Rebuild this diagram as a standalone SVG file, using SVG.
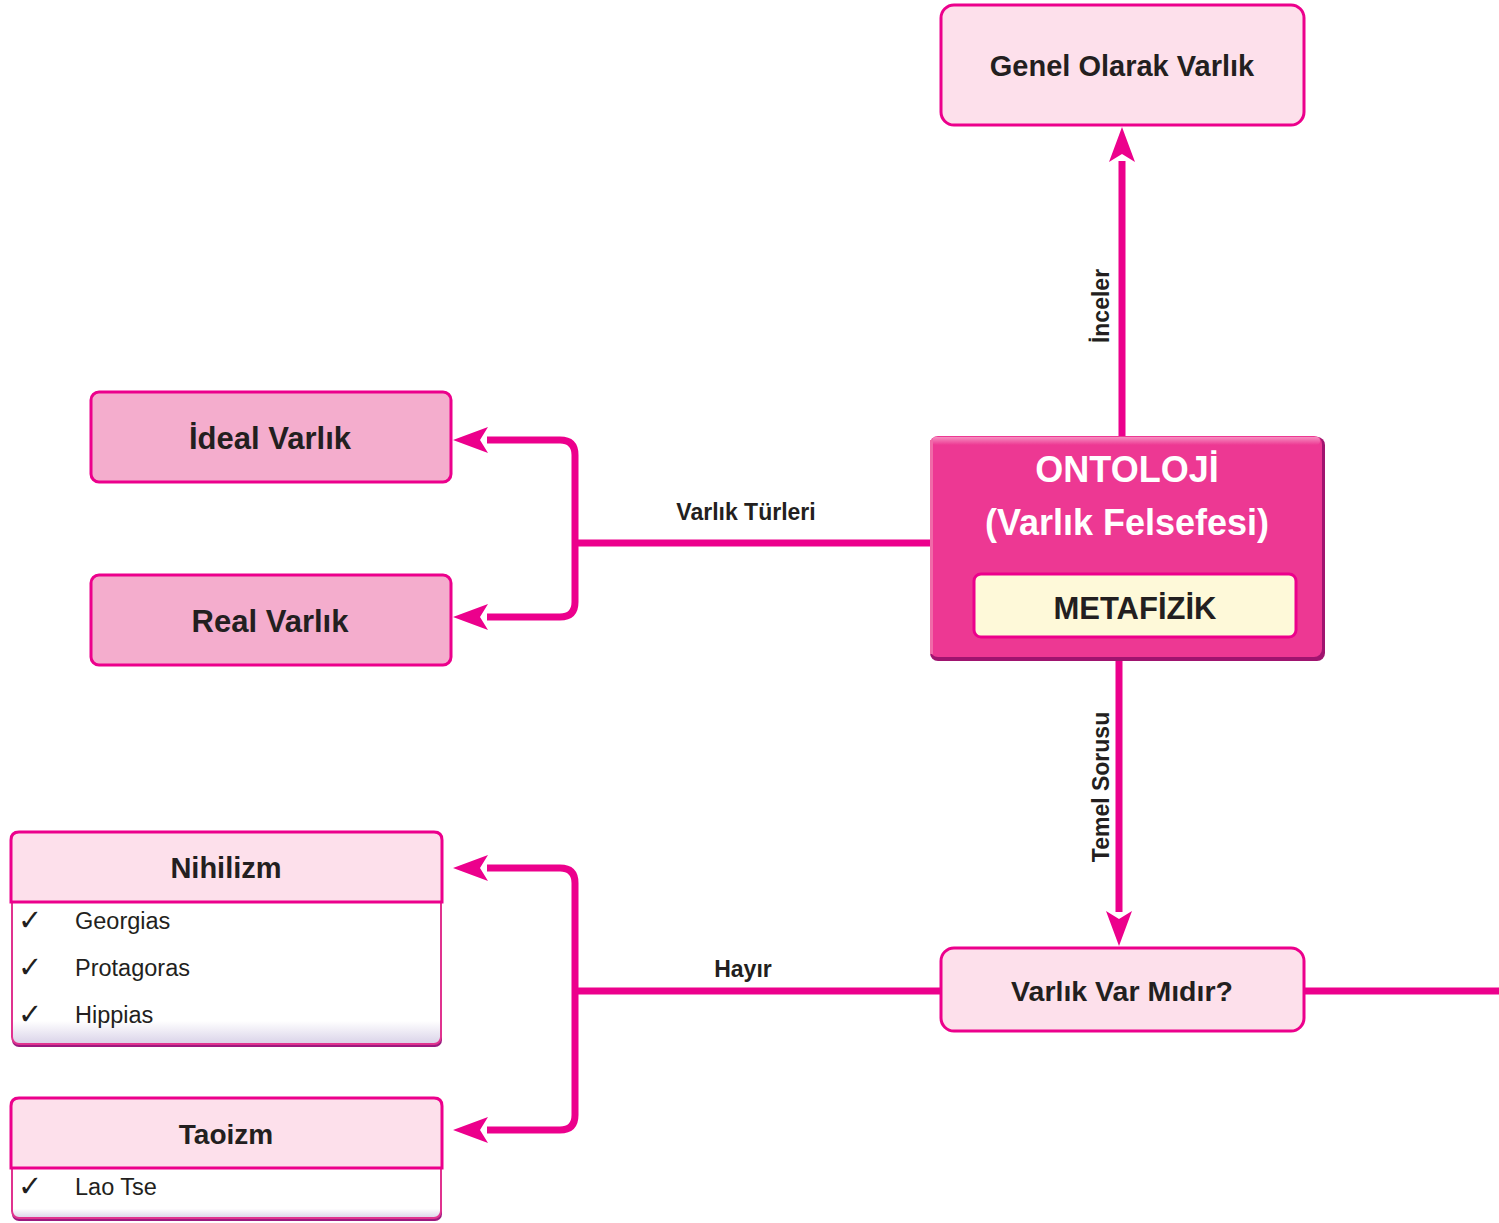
<svg xmlns="http://www.w3.org/2000/svg" width="1499" height="1223" viewBox="0 0 1499 1223">
<style>
  .bold { font-family: "Liberation Sans", Arial, sans-serif; font-weight: bold; fill: #231f20; }
  .reg { font-family: "Liberation Sans", Arial, sans-serif; fill: #231f20; }
  .chk { font-family: "DejaVu Sans", sans-serif; fill: #231f20; font-size: 29px; }
  .lbl { font-size: 23px; }
  .conn { fill: none; stroke: #ec008c; stroke-width: 7; }
  .light { fill: #fde0eb; stroke: #ec008c; stroke-width: 3; }
  .mid { fill: #f4adcd; stroke: #ec008c; stroke-width: 3; }
</style>
<defs>
  <marker id="ah" markerUnits="userSpaceOnUse" markerWidth="40" markerHeight="30" refX="0" refY="0" orient="auto" overflow="visible">
    <path d="M34,0 L-1,-13 L7,0 L-1,13 Z" fill="#ec008c"/>
  </marker>
  <linearGradient id="bodyGrad" x1="0" y1="0" x2="0" y2="1">
    <stop offset="0" stop-color="#ffffff"/>
    <stop offset="0.85" stop-color="#ffffff"/>
    <stop offset="1" stop-color="#d9d2e8"/>
  </linearGradient>
  <linearGradient id="ontoHi" x1="0" y1="0" x2="0" y2="1">
    <stop offset="0" stop-color="#f68fc0"/>
    <stop offset="1" stop-color="#ed3893"/>
  </linearGradient>
</defs>

<g id="connectors">
  <path class="conn" d="M1122,436 V161" marker-end="url(#ah)"/>
  <path class="conn" d="M1119,660 V912" marker-end="url(#ah)"/>
  <path class="conn" d="M930,543 H575"/>
  <path class="conn" d="M575,543 V455 Q575,440 560,440 H487" marker-end="url(#ah)"/>
  <path class="conn" d="M575,543 V602 Q575,617 560,617 H487" marker-end="url(#ah)"/>
  <path class="conn" d="M941,991 H575"/>
  <path class="conn" d="M575,991 V883 Q575,868 560,868 H487" marker-end="url(#ah)"/>
  <path class="conn" d="M575,991 V1115 Q575,1130 560,1130 H487" marker-end="url(#ah)"/>
  <path class="conn" d="M1304,991 H1499"/>
  <text class="bold lbl" x="746" y="520" text-anchor="middle">Varlık Türleri</text>
  <text class="bold lbl" x="743" y="977" text-anchor="middle">Hayır</text>
  <text class="bold lbl" transform="translate(1109,306) rotate(-90)" text-anchor="middle">İnceler</text>
  <text class="bold lbl" transform="translate(1109,787) rotate(-90)" text-anchor="middle">Temel Sorusu</text>
</g>

<g id="genel">
  <rect class="light" x="941" y="5" width="363" height="120" rx="13"/>
  <text class="bold" x="1122" y="76" font-size="29" text-anchor="middle">Genel Olarak Varlık</text>
</g>

<g id="ontoloji">
  <rect x="930" y="437" width="395" height="224" rx="8" fill="#a0146f"/>
  <rect x="930" y="436" width="392" height="221" rx="8" fill="#ed3893"/>
  <rect x="932" y="437" width="388" height="8" rx="4" fill="url(#ontoHi)"/>
  <rect x="930" y="440" width="3" height="214" fill="#f06aa8"/>
  <text class="bold" x="1127" y="482" font-size="36" text-anchor="middle" style="fill:#ffffff">ONTOLOJİ</text>
  <text class="bold" x="1127" y="535" font-size="36" text-anchor="middle" style="fill:#ffffff">(Varlık Felsefesi)</text>
  <rect x="974" y="574" width="322" height="63" rx="7" fill="#fef9d9" stroke="#ec008c" stroke-width="3"/>
  <text class="bold" x="1135" y="619" font-size="31" text-anchor="middle">METAFİZİK</text>
</g>

<g id="ideal">
  <rect class="mid" x="91" y="392" width="360" height="90" rx="8"/>
  <text class="bold" x="270" y="449" font-size="31" text-anchor="middle">İdeal Varlık</text>
</g>

<g id="real">
  <rect class="mid" x="91" y="575" width="360" height="90" rx="8"/>
  <text class="bold" x="270" y="632" font-size="31" text-anchor="middle">Real Varlık</text>
</g>

<g id="varlikvar">
  <rect class="light" x="941" y="948" width="363" height="83" rx="13"/>
  <text class="bold" x="1122" y="1001" font-size="28.5" text-anchor="middle">Varlık Var Mıdır?</text>
</g>

<g id="nihilizm">
  <rect x="12" y="890" width="430" height="157" rx="7" fill="#9a1a7f"/>
  <rect x="12" y="890" width="429" height="154" rx="7" fill="url(#bodyGrad)" stroke="#e0338f" stroke-width="2"/>
  <path d="M11,902 V840 Q11,832 19,832 H434 Q442,832 442,840 V902 Z" class="light"/>
  <text class="bold" x="226" y="878" font-size="29" text-anchor="middle">Nihilizm</text>
  <text class="chk" x="18" y="930">✓</text>
  <text class="reg" x="75" y="929" font-size="23.5">Georgias</text>
  <text class="chk" x="18" y="977">✓</text>
  <text class="reg" x="75" y="976" font-size="23.5">Protagoras</text>
  <text class="chk" x="18" y="1024">✓</text>
  <text class="reg" x="75" y="1023" font-size="23.5">Hippias</text>
</g>

<g id="taoizm">
  <rect x="12" y="1156" width="430" height="65" rx="7" fill="#9a1a7f"/>
  <rect x="12" y="1156" width="429" height="62" rx="7" fill="url(#bodyGrad)" stroke="#e0338f" stroke-width="2"/>
  <path d="M11,1168 V1106 Q11,1098 19,1098 H434 Q442,1098 442,1106 V1168 Z" class="light"/>
  <text class="bold" x="226" y="1144" font-size="28" text-anchor="middle">Taoizm</text>
  <text class="chk" x="18" y="1196">✓</text>
  <text class="reg" x="75" y="1195" font-size="23.5">Lao Tse</text>
</g>
</svg>
